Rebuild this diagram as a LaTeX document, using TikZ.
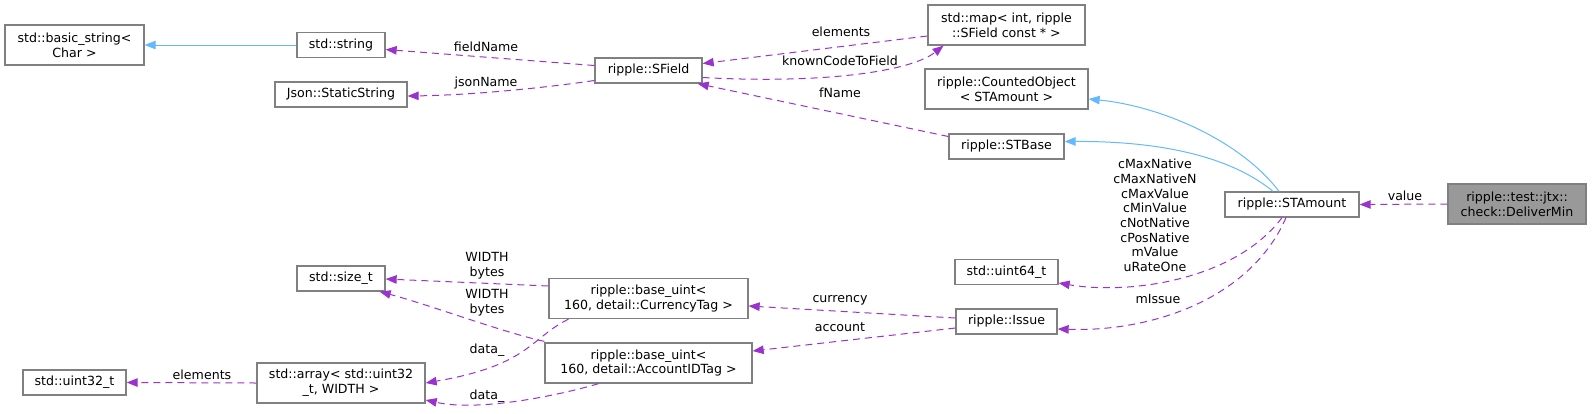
\documentclass[tikz,border=0pt]{standalone}
\usepackage{fontspec}
\setmainfont{DejaVu Sans}
\usepackage{tikz}
\usetikzlibrary{arrows.meta, calc}
\definecolor{edgeuse}{HTML}{9A32CD}
\definecolor{edgeinh}{HTML}{63B8FF}
\definecolor{boxline}{HTML}{808080}
\newcommand\dxfont{\fontsize{12.6}{14.7}\selectfont}

\begin{document}
\begin{tikzpicture}[
    x=1pt, y=-1pt,
    cls/.style={draw=boxline, fill=white, line width=1.3pt, inner sep=0pt, align=center, font=\dxfont, minimum height=25pt},
    tall/.style={minimum height=40pt},
    cur/.style={fill=black!40},
    inherit/.style={draw=edgeinh, line width=1pt, -{Triangle[length=11pt,width=8.5pt]}},
    member/.style={draw=edgeuse, line width=1pt, dash pattern=on 7pt off 5pt, -{Triangle[length=11pt,width=8.5pt]}},
    lbl/.style={font=\dxfont, inner sep=0pt, align=center}
]
    \useasboundingbox (0,0) rectangle (1592,413);

    \node[cls, tall, minimum width=139pt] (basicstr) at (74.5,45) {std::basic\_string<\\Char >};
    \node[cls, minimum width=88pt] (stdstring) at (341,45) {std::string};
    \node[cls, minimum width=132pt] (jsonstr) at (341,94.5) {Json::StaticString};
    \node[cls, minimum width=107pt] (sfield) at (648.5,70.5) {ripple::SField};
    \node[cls, tall, minimum width=157pt] (stdmap) at (1006.5,25) {std::map< int, ripple\\::SField const * >};
    \node[cls, tall, minimum width=163pt] (counted) at (1006.5,89) {ripple::CountedObject\\< STAmount >};
    \node[cls, minimum width=115pt] (stbase) at (1006.5,146.5) {ripple::STBase};
    \node[cls, minimum width=134pt] (stamount) at (1292,204.5) {ripple::STAmount};
    \node[cls, cur, tall, minimum width=138pt] (delivermin) at (1517,204) {ripple::test::jtx::\\check::DeliverMin};
    \node[cls, minimum width=103pt] (uint64) at (1006.5,272) {std::uint64\_t};
    \node[cls, minimum width=101pt] (issue) at (1006.5,321.5) {ripple::Issue};
    \node[cls, tall, minimum width=199pt] (currency) at (648.5,298.5) {ripple::base\_uint<\\160, detail::CurrencyTag >};
    \node[cls, tall, minimum width=207pt] (accountid) at (648.5,363) {ripple::base\_uint<\\160, detail::AccountIDTag >};
    \node[cls, minimum width=88pt] (sizet) at (341,278.5) {std::size\_t};
    \node[cls, tall, minimum width=168pt] (stdarray) at (341,383) {std::array< std::uint32\\\_t, WIDTH >};
    \node[cls, minimum width=103pt] (uint32) at (74.5,382.5) {std::uint32\_t};

    \draw[inherit] (stdstring.west) -- (basicstr.east);
    \draw[member] ($(sfield.west)+(0,-5)$) -- ($(stdstring.east)+(0,4.5)$);
    \draw[member] ($(sfield.west)+(0,10)$) .. controls +(-40,6) and +(70,-1) .. ($(jsonstr.east)+(0,1.5)$);
    \draw[member] ($(stdmap.west)+(0,11)$) -- ($(sfield.east)+(0,-7)$);
    \draw[member] ($(sfield.east)+(0,7)$) .. controls (820,84) and (910,72) .. ($(stdmap.south)+(-63,0)$);
    \draw[member] ($(stbase.west)+(0,-10)$) -- ($(sfield.south east)+(-5,0)$);
    \draw[inherit] ($(stamount.north)+(-13,0)$) .. controls (1240,140) and (1160,106) .. ($(counted.east)+(0,10)$);
    \draw[inherit] ($(stamount.north)+(-19,0)$) .. controls (1235,160) and (1170,141) .. ($(stbase.east)+(0,-5)$);
    \draw[member] ($(stamount.south)+(-10,0)$) .. controls (1235,280) and (1130,295) .. ($(uint64.east)+(0,11)$);
    \draw[member] ($(stamount.south)+(-6,0)$) .. controls (1250,300) and (1150,332) .. ($(issue.east)+(0,7.5)$);
    \draw[member] (delivermin.west) -- (stamount.east);
    \draw[member] ($(issue.west)+(0,-3.5)$) -- ($(currency.east)+(0,7.5)$);
    \draw[member] ($(issue.west)+(0,6.5)$) -- ($(accountid.east)+(0,-12)$);
    \draw[member] ($(currency.west)+(0,-12.5)$) -- ($(sizet.east)+(0,0.5)$);
    \draw[member] ($(accountid.north west)+(0,-1)$) .. controls (505,333) and (430,305) .. ($(sizet.south east)+(-6,0)$);
    \draw[member] ($(currency.south)+(-80,0)$) .. controls (530,338) and (530,365) .. (stdarray.east);
    \draw[member] ($(accountid.south)+(-50,0)$) .. controls (560,395) and (480,412) .. ($(stdarray.east)+(0,17)$);
    \draw[member] (stdarray.west) -- (uint32.east);

    \node[lbl] (lfield) at (486,47) {fieldName};
    \node[lbl] (ljson) at (486,83) {jsonName};
    \node[lbl] (lmapel) at (841,32) {elements};
    \node[lbl] (lknown) at (840,61) {knownCodeToField};
    \node[lbl] (lfname) at (840,93) {fName};
    \node[lbl] (lmembers) at (1155,215.5) {cMaxNative\\cMaxNativeN\\cMaxValue\\cMinValue\\cNotNative\\cPosNative\\mValue\\uRateOne};
    \node[lbl] (lissue) at (1158,299) {mIssue};
    \node[lbl] (lvalue) at (1405,196) {value};
    \node[lbl] (lcur) at (840,300) {currency};
    \node[lbl] (lacc) at (840,327) {account};
    \node[lbl] (lw1) at (487,266) {WIDTH\\bytes};
    \node[lbl] (lw2) at (487,303) {WIDTH\\bytes};
    \node[lbl] (ldata1) at (487,350) {data\_};
    \node[lbl] (ldata2) at (487,396) {data\_};
    \node[lbl] (lelem) at (202,375) {elements};
\end{tikzpicture}
\end{document}
